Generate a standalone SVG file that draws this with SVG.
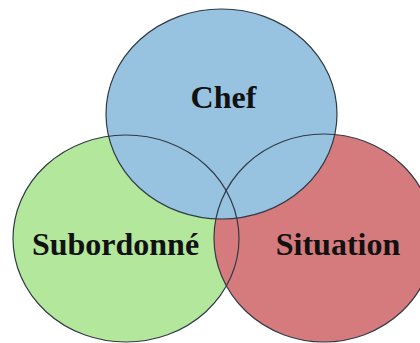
<svg xmlns="http://www.w3.org/2000/svg" width="420" height="343" viewBox="0 0 420 343">
<style>
.out{fill:none;stroke:#2f3a45;stroke-width:1.2}
.lbl{font-family:"Liberation Serif","Times New Roman",serif;font-weight:bold;font-size:32px;fill:#111;text-anchor:middle}
</style>
<rect width="420" height="343" fill="#ffffff"/>
<g id="subordonne">
<ellipse cx="126" cy="238.5" rx="113" ry="103.5" fill="#b3e79b"/>
</g>
<g id="situation">
<ellipse cx="324" cy="238" rx="110" ry="104" fill="#d67b7d"/>
</g>
<g id="chef">
<ellipse cx="221.5" cy="114" rx="115.5" ry="105" fill="#98c3e0"/>
</g>
<g id="outlines">
<ellipse class="out" cx="126" cy="238.5" rx="113" ry="103.5"/>
<ellipse class="out" cx="324" cy="238" rx="110" ry="104"/>
<ellipse class="out" cx="221.5" cy="114" rx="115.5" ry="105"/>
</g>
<text class="lbl" x="223.5" y="108">Chef</text>
<text class="lbl" x="115.5" y="255">Subordonné</text>
<text class="lbl" x="338" y="255">Situation</text>
</svg>
